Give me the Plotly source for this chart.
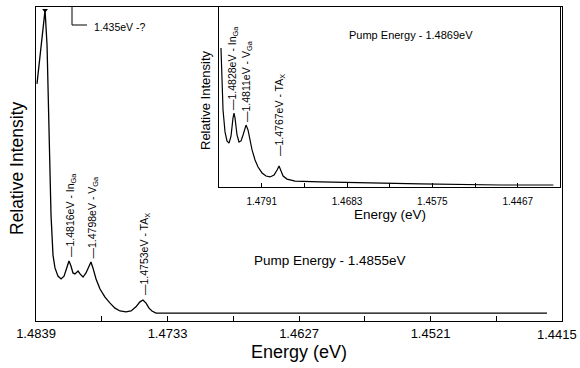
import plotly.graph_objects as go

# ---------------- data ----------------
main_energy = [1.48382, 1.48350, 1.48317, 1.48301, 1.48285, 1.48269, 1.48253, 1.48237,
               1.48213, 1.48188, 1.48164, 1.48140, 1.48124, 1.48108, 1.48092, 1.48076,
               1.48051, 1.48035, 1.48011, 1.47987, 1.47963, 1.47947, 1.47931, 1.47906,
               1.47874, 1.47834, 1.47793, 1.47753, 1.47713, 1.47665, 1.47624, 1.47584,
               1.47552, 1.47528, 1.47503, 1.47479, 1.47455, 1.47423, 1.47068, 1.46262,
               1.45456, 1.44271]
main_intensity = [0.755, 0.879, 0.990, 0.879, 0.576, 0.338, 0.210, 0.169,
                  0.143, 0.134, 0.143, 0.169, 0.191, 0.175, 0.153, 0.150,
                  0.159, 0.150, 0.140, 0.153, 0.178, 0.188, 0.169, 0.134,
                  0.102, 0.076, 0.057, 0.041, 0.032, 0.029, 0.032, 0.045,
                  0.061, 0.067, 0.057, 0.041, 0.032, 0.025, 0.025, 0.025,
                  0.025, 0.025]

inset_energy = [1.48425, 1.48412, 1.48399, 1.48374, 1.48349, 1.48323, 1.48298, 1.48273,
                1.48260, 1.48247, 1.48222, 1.48197, 1.48171, 1.48146, 1.48121, 1.48108,
                1.48083, 1.48057, 1.48032, 1.47994, 1.47956, 1.47905, 1.47855, 1.47804,
                1.47753, 1.47715, 1.47690, 1.47665, 1.47639, 1.47589, 1.47487, 1.47171,
                1.46664, 1.45904, 1.44890, 1.44219]
inset_intensity = [0.772, 0.594, 0.428, 0.306, 0.256, 0.244, 0.283, 0.383,
                   0.411, 0.383, 0.289, 0.250, 0.256, 0.289, 0.333, 0.344,
                   0.317, 0.250, 0.206, 0.150, 0.111, 0.078, 0.061, 0.056,
                   0.067, 0.094, 0.117, 0.089, 0.061, 0.044, 0.033, 0.028,
                   0.022, 0.017, 0.011, 0.011]

main_ticks = [1.4839, 1.4733, 1.4627, 1.4521]
main_ticklabels = ["1.4839", "1.4733", "1.4627", "1.4521"]
main_minor_ticks = [1.4786, 1.4680, 1.4574, 1.4468, 1.4415]
main_edge_label = "1.4415"
inset_ticks = [1.4791, 1.4683, 1.4575, 1.4467]
inset_ticklabels = ["1.4791", "1.4683", "1.4575", "1.4467"]
inset_minor_ticks = [1.4845, 1.4737, 1.4629, 1.4521, 1.4413]

main_peak_index = 2

main_labels = ["—1.4816eV - In<sub>Ga</sub>", "—1.4798eV - V<sub>Ga</sub>", "—1.4753eV - TA<sub>X</sub>"]
inset_labels = ["—1.4828eV - In<sub>Ga</sub>", "—1.4811eV - V<sub>Ga</sub>", "—1.4767eV - TA<sub>X</sub>"]

# ---------------- layout geometry (pixels) ----------------
W, H = 580, 368
L, R, T, B = 36, 562, 7, 321


def px(x):
    return (x - L) / (R - L)


def py(y):
    return (B - y) / (B - T)


FONT = "Liberation Sans, Arial, Helvetica, sans-serif"

fig = go.Figure()
fig.add_trace(go.Scatter(x=main_energy, y=main_intensity, mode="lines",
                         line=dict(color="black", width=1.3), xaxis="x", yaxis="y",
                         showlegend=False, hoverinfo="skip"))
fig.add_trace(go.Scatter(x=[main_energy[main_peak_index]], y=[main_intensity[main_peak_index]],
                         mode="markers", marker=dict(symbol="triangle-down", size=5, color="black"),
                         xaxis="x", yaxis="y", showlegend=False, hoverinfo="skip"))
fig.add_trace(go.Scatter(x=inset_energy, y=inset_intensity, mode="lines",
                         line=dict(color="black", width=1.2), xaxis="x2", yaxis="y2",
                         showlegend=False, hoverinfo="skip"))

ax_common = dict(showgrid=False, zeroline=False, showline=True, linecolor="black",
                 linewidth=1.2, mirror=True, tickcolor="black", automargin=False)

inset_left, inset_bottom = 219, 187

fig.update_layout(
    width=W, height=H,
    margin=dict(l=L, r=W - R, t=T, b=H - B, pad=0, autoexpand=False),
    paper_bgcolor="white", plot_bgcolor="white",
    font=dict(family=FONT, color="black", size=12),
    xaxis=dict(**ax_common, ticks="inside", range=[1.4839, 1.4415], tickmode="array",
               tickvals=main_ticks, ticktext=main_ticklabels, ticklen=5, tickwidth=1.2,
               minor=dict(tickmode="array", tickvals=main_minor_ticks, ticks="inside",
                          ticklen=5, tickwidth=1.2, tickcolor="black", showgrid=False),
               tickfont=dict(size=13, family=FONT, color="black"), domain=[0, 1]),
    yaxis=dict(**ax_common, ticks="", showticklabels=False, range=[0, 1], domain=[0, 1]),
    xaxis2=dict(**ax_common, ticks="inside", anchor="y2", range=[1.4845, 1.4413],
                tickmode="array", tickvals=inset_ticks, ticktext=inset_ticklabels,
                ticklen=4, tickwidth=1, ticklabelstandoff=5,
                minor=dict(tickmode="array", tickvals=inset_minor_ticks, ticks="inside",
                           ticklen=4, tickwidth=1, tickcolor="black", showgrid=False),
                tickfont=dict(size=10, family=FONT, color="black"),
                domain=[px(inset_left), px(R) - 0.003]),
    yaxis2=dict(**ax_common, ticks="", anchor="x2", showticklabels=False, range=[0, 1],
                domain=[py(inset_bottom), 1]),
)

ann = []
# axis titles
ann.append(dict(x=px(299), y=py(352), text="Energy (eV)", font=dict(size=18)))
ann.append(dict(x=px(17), y=py(168), text="Relative Intensity", textangle=-90, font=dict(size=17.5)))
ann.append(dict(x=px(390), y=py(214), text="Energy (eV)", font=dict(size=13.5)))
ann.append(dict(x=px(205), y=py(101), text="Relative Intensity", textangle=-90, font=dict(size=13)))
# edge tick label (sits at the page edge, so right-aligned)
ann.append(dict(x=px(579), y=py(334), text=main_edge_label, xanchor="right", font=dict(size=13)))
# pump energy labels
ann.append(dict(x=px(252), y=py(260), text="Pump Energy - 1.4855eV", xanchor="left", font=dict(size=13.5)))
ann.append(dict(x=px(347), y=py(35), text="Pump Energy - 1.4869eV", xanchor="left", font=dict(size=11)))
# callout
ann.append(dict(x=px(92), y=py(27), text="1.435eV -?", xanchor="left", font=dict(size=10.5)))

# peak labels
for txt, (xc, yb) in zip(main_labels, [(71, 259), (92, 261), (145, 297)]):
    ann.append(dict(x=px(xc), y=py(yb), text=txt, textangle=-90, yanchor="bottom",
                    font=dict(size=10.5)))
for txt, (xc, yb) in zip(inset_labels, [(233, 112), (247, 124), (280, 158)]):
    ann.append(dict(x=px(xc), y=py(yb), text=txt, textangle=-90, yanchor="bottom",
                    font=dict(size=10.5)))

for a in ann:
    a.setdefault("xanchor", "center")
    a.setdefault("yanchor", "middle")
    a.update(xref="paper", yref="paper", showarrow=False)
    a["font"] = dict(family=FONT, color="black", **a["font"])

fig.update_layout(annotations=ann)

fig.add_shape(type="path", xref="paper", yref="paper",
              path=f"M {px(72)} {py(7)} L {px(72)} {py(25)} L {px(87)} {py(25)}",
              line=dict(color="black", width=1))

fig.write_html("out.html")
